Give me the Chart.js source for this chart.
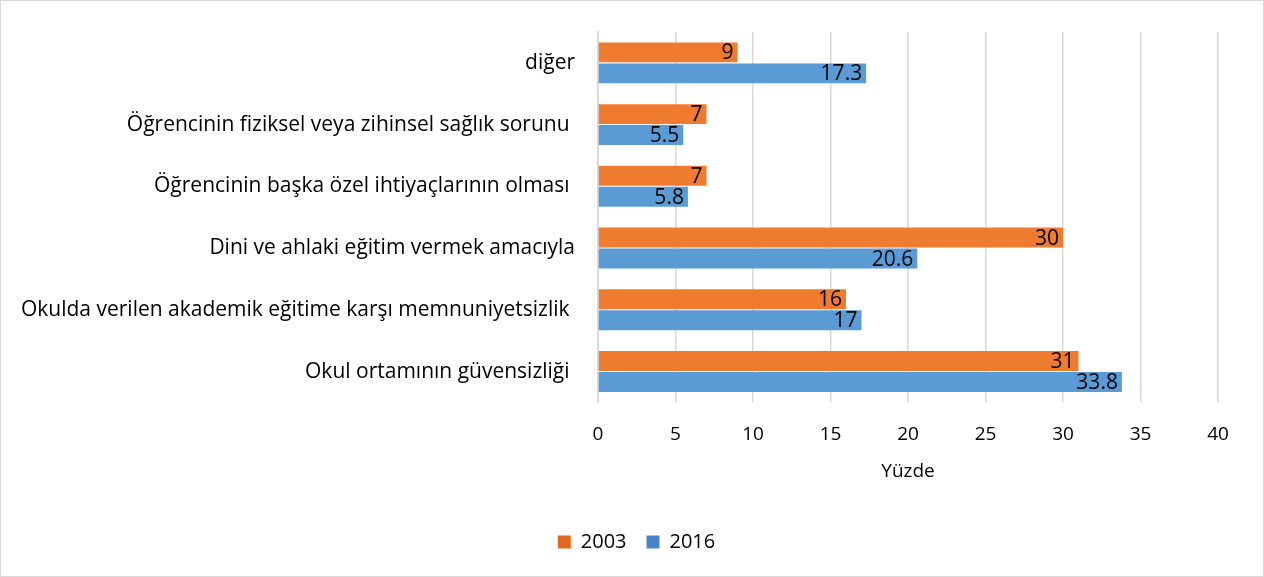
<!DOCTYPE html>
<html><head><meta charset="utf-8">
<script src="https://cdn.jsdelivr.net/npm/chart.js@4.4.0/dist/chart.umd.min.js"></script>
<style>
html,body{margin:0;padding:0;background:#fff;}
#wrap{position:absolute;left:0;top:0;width:1264px;height:577px;box-sizing:border-box;border:1px solid #d9d9d9;}
canvas{display:block;}
</style></head><body>
<div id="wrap"><canvas id="c" width="1262" height="575"></canvas></div>
<script>
const categories = ["diğer","Öğrencinin fiziksel veya zihinsel sağlık sorunu ","Öğrencinin başka özel ihtiyaçlarının olması ","Dini ve ahlaki eğitim vermek amacıyla","Okulda verilen akademik eğitime karşı memnuniyetsizlik ","Okul ortamının güvensizliği "];
const values2003 = [9,7,7,30,16,31];
const values2016 = [17.3,5.5,5.8,20.6,17,33.8];
const seriesNames = ["2003","2016"];
const xTicks = [0,5,10,15,20,25,30,35,40];

const FONT = "'Open Sans', Lato, sans-serif";
const FS = 19;
const FS_CAT = 21;
const FS_LBL = 21;
const FS_LEG = 20;
const LEGEND_SHIFT = 27;
Chart.defaults.font.family = FONT;
Chart.defaults.color = "#000";

const labelPlugin = {
  id:'barLabels',
  afterLayout(chart){
    const lg = chart.legend;
    if (lg && typeof lg.left === 'number') { lg.left += LEGEND_SHIFT; lg.right += LEGEND_SHIFT; }
  },
  afterDatasetsDraw(chart){
    const ctx = chart.ctx;
    ctx.save();
    ctx.font = FS_LBL + "px " + FONT;
    ctx.fillStyle = "#000";
    ctx.textAlign = "right";
    ctx.textBaseline = "middle";
    chart.data.datasets.forEach((ds,i)=>{
      const meta = chart.getDatasetMeta(i);
      meta.data.forEach((el,j)=>{
        ctx.fillText(String(ds.data[j]), el.x - 4, el.y + 1);
      });
    });
    ctx.restore();
  }
};

function grad(top, mid, bot){
  return (c)=>{
    const el = c.element;
    if(!el || el.y === undefined || isNaN(el.y)) return mid;
    const h = el.height || 20;
    const g = c.chart.ctx.createLinearGradient(0, el.y - h/2, 0, el.y + h/2);
    g.addColorStop(0, top); g.addColorStop(0.5, mid); g.addColorStop(1, bot);
    return g;
  };
}

new Chart(document.getElementById('c'), {
  type:'bar',
  data:{
    labels: categories,
    datasets:[
      {label:seriesNames[0], data:values2003, backgroundColor:grad('#f59257','#ef7b30','#e0691d'), borderWidth:0, categoryPercentage:0.68, barPercentage:0.95},
      {label:seriesNames[1], data:values2016, backgroundColor:grad('#71aae0','#5b9bd5','#4686c6'), borderWidth:0, categoryPercentage:0.68, barPercentage:0.95}
    ]
  },
  options:{
    indexAxis:'y',
    responsive:false,
    animation:false,
    layout:{padding:{top:31,right:45,left:0,bottom:14}},
    scales:{
      x:{
        min:0,max:40,
        afterBuildTicks(s){ s.ticks = xTicks.map(v=>({value:v})); },
        grid:{color:'#d9d9d9',lineWidth:1.5,drawTicks:false},
        border:{display:false},
        ticks:{font:{size:FS},padding:21,color:'#000'},
        title:{display:true,text:'Yüzde',font:{size:FS},color:'#000',padding:{top:-3,bottom:29}},
        afterFit(s){ s.height = s.height - 4; }
      },
      y:{
        grid:{display:false},
        border:{display:true,color:'#d9d9d9',width:2},
        ticks:{font:{size:FS_CAT},padding:15,color:'#000'},
        afterFit(s){ s.width = 597; }
      }
    },
    plugins:{
      legend:{position:'bottom',labels:{font:{size:FS_LEG},boxWidth:13,boxHeight:13,padding:20,color:'#000'}},
      tooltip:{enabled:false}
    }
  },
  plugins:[labelPlugin]
});
</script></body></html>
